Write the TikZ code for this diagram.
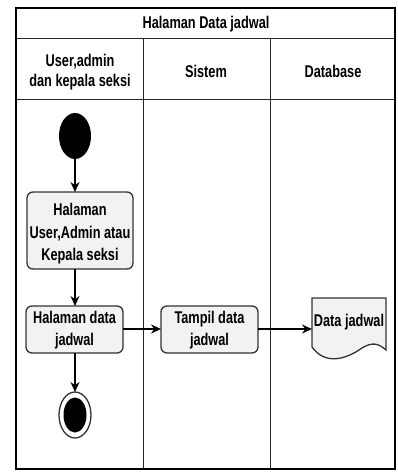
\documentclass[tikz,border=0pt]{standalone}
\usepackage{fontspec}
\setmainfont{Liberation Sans}[FakeStretch=0.75]
\usetikzlibrary{arrows.meta}
\definecolor{boxfill}{HTML}{F2F2F2}
\definecolor{boxline}{HTML}{333333}
\tikzset{
  frameline/.style={draw=black, line width=1.8pt},
  laneline/.style={draw=black!85, line width=1pt},
  lbl/.style={font=\fontsize{17}{20}\selectfont\bfseries, align=center, inner sep=0pt},
  boxtxt/.style={font=\fontsize{17}{22.5}\selectfont\bfseries, align=center, inner sep=0pt},
  actbox/.style={draw=boxline, fill=boxfill, line width=1.3pt, rounded corners=6pt},
  flow/.style={draw=black, line width=1.3pt, -{Stealth[length=10pt,width=9pt]}},
}
\begin{document}
\begin{tikzpicture}[x=1pt,y=-1pt]
\useasboundingbox (0,0) rectangle (398,473);
% lanes
\draw[laneline] (16,39) -- (395,39);
\draw[laneline] (16,100) -- (395,100);
\draw[laneline] (143,39) -- (143,469);
\draw[laneline] (270,39) -- (270,469);
\draw[frameline] (16,8) rectangle (395,469);
% headers
\node[lbl] (title) at (206,24) {Halaman Data jadwal};
\node[lbl] (h1) at (80,72) {User,admin\\dan kepala seksi};
\node[lbl] (h2) at (206,71) {Sistem};
\node[lbl] (h3) at (333,71) {Database};
% start
\fill (75,136) ellipse [x radius=16, y radius=23];
\coordinate (start) at (75,159);
% boxes
\path[actbox] (27,192) rectangle (133,269);
\node[boxtxt] (b1) at (80,234) {Halaman\\User,Admin atau\\Kepala seksi};
\path[actbox] (26,306) rectangle (123,353);
\node[boxtxt] (b2) at (74.5,330) {Halaman data\\jadwal};
\path[actbox] (161,306) rectangle (258,353);
\node[boxtxt] (b3) at (209.5,330) {Tampil data\\jadwal};
% document
\draw[fill=boxfill, draw=boxline, line width=1.3pt]
  (312,298) -- (386,298) -- (386,350)
  .. controls (378,343) and (372,342) .. (362,348)
  .. controls (345,360) and (325,365) .. (312,347) -- cycle;
\node[lbl] (doc) at (349,322) {Data jadwal};
% end
\draw[draw=boxline, fill=white, line width=1.3pt] (75,415) ellipse [x radius=16, y radius=23];
\fill (75,415) ellipse [x radius=11.5, y radius=17.5];
% coordinates
\coordinate (b1top) at (75,192);
\coordinate (b1bot) at (75,269);
\coordinate (b2top) at (75,306);
\coordinate (b2bot) at (75,353);
\coordinate (b2right) at (123,329);
\coordinate (b3left) at (161,329);
\coordinate (b3right) at (258,329);
\coordinate (docleft) at (312,329);
\coordinate (endtop) at (75,392);
\draw[flow] (start) -- (b1top);
\draw[flow] (b1bot) -- (b2top);
\draw[flow] (b2bot) -- (endtop);
\draw[flow] (b2right) -- (b3left);
\draw[flow] (b3right) -- (docleft);
\end{tikzpicture}
\end{document}
